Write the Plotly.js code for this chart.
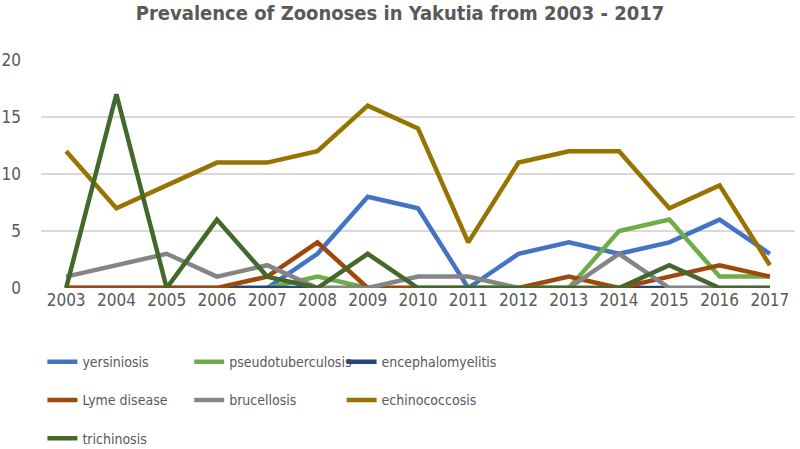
<!DOCTYPE html>
<html>
<head>
<meta charset="utf-8">
<script src="https://cdn.plot.ly/plotly-3.0.1.min.js"></script>
<style>
  html, body { margin: 0; padding: 0; background: #fff; }
  #chart { width: 800px; height: 449px; }
</style>
</head>
<body>
<div id="chart"></div>
<script>
// years on the category axis
const years = ['2003', '2004', '2005', '2006', '2007', '2008', '2009', '2010',
               '2011', '2012', '2013', '2014', '2015', '2016', '2017'];

// cases per year
const yersiniosis        = [0, 0, 0, 0, 0, 3, 8, 7, 0, 3, 4, 3, 4, 6, 3];
const pseudotuberculosis = [0, 0, 0, 0, 0, 1, 0, 0, 0, 0, 0, 5, 6, 1, 1];
const encephalomyelitis  = [0, 0, 0, 0, 0, 0, 0, 0, 0, 0, 0, 0, 0, 0, 0];
const lymeDisease        = [0, 0, 0, 0, 1, 4, 0, 0, 0, 0, 1, 0, 1, 2, 1];
const brucellosis        = [1, 2, 3, 1, 2, 0, 0, 1, 1, 0, 0, 3, 0, 0, 0];
const echinococcosis     = [12, 7, 9, 11, 11, 12, 16, 14, 4, 11, 12, 12, 7, 9, 2];
const trichinosis        = [0, 17, 0, 6, 1, 0, 3, 0, 0, 0, 0, 0, 2, 0, 0];

const FONT = '"DejaVu Sans Condensed", "Roboto", sans-serif';
const GREY = '#595959';

// legend = which legend column the entry goes in
function line(name, y, color, legend) {
  return {
    x: years,
    y: y,
    name: name,
    type: 'scatter',
    mode: 'lines',
    line: {color: color, width: 4.5},
    legend: legend,
    legendgroup: name,
    hoverinfo: 'x+y+name'
  };
}

var data = [
  line('yersiniosis', yersiniosis, '#4472C4', 'legend'),
  line('pseudotuberculosis', pseudotuberculosis, '#70AD47', 'legend2'),
  line('encephalomyelitis', encephalomyelitis, '#264478', 'legend3'),
  line('Lyme disease', lymeDisease, '#9E480E', 'legend'),
  line('brucellosis', brucellosis, '#858585', 'legend2'),
  line('echinococcosis', echinococcosis, '#997300', 'legend3'),
  line('trichinosis', trichinosis, '#43682B', 'legend')
];

// one vertical legend per column, rows spaced with tracegroupgap
function legendCol(x) {
  return {
    orientation: 'v',
    x: x, xanchor: 'left', xref: 'container',
    y: 0.229, yanchor: 'top', yref: 'container',
    tracegroupgap: 17,
    font: {family: FONT, size: 14, color: GREY},
    bgcolor: 'rgba(0,0,0,0)',
    itemwidth: 30
  };
}

var layout = {
  width: 800,
  height: 449,
  paper_bgcolor: '#fff',
  plot_bgcolor: '#fff',
  margin: {l: 41, r: 5, t: 60, b: 161, autoexpand: false},
  title: {
    text: '<b>Prevalence of Zoonoses in Yakutia from 2003 - 2017</b>',
    font: {family: FONT, size: 20, color: GREY},
    x: 0.5, xanchor: 'center',
    y: 0.972, yanchor: 'middle'
  },
  xaxis: {
    type: 'category',
    range: [-0.5, 14.5],
    tickangle: 0,
    showgrid: false,
    zeroline: false,
    showline: false,
    ticks: '',
    tickfont: {family: FONT, size: 17, color: GREY}
  },
  yaxis: {
    range: [0, 20],
    dtick: 5,
    showgrid: true,
    gridcolor: '#D9D9D9',
    gridwidth: 1.5,
    zeroline: false,
    showline: false,
    ticks: '',
    ticklabelstandoff: 19,
    tickfont: {family: FONT, size: 17, color: GREY}
  },
  legend: legendCol(0.053),
  legend2: legendCol(0.2365),
  legend3: legendCol(0.427),
  showlegend: true
};

Plotly.newPlot('chart', data, layout, {displayModeBar: false});
</script>
</body>
</html>
